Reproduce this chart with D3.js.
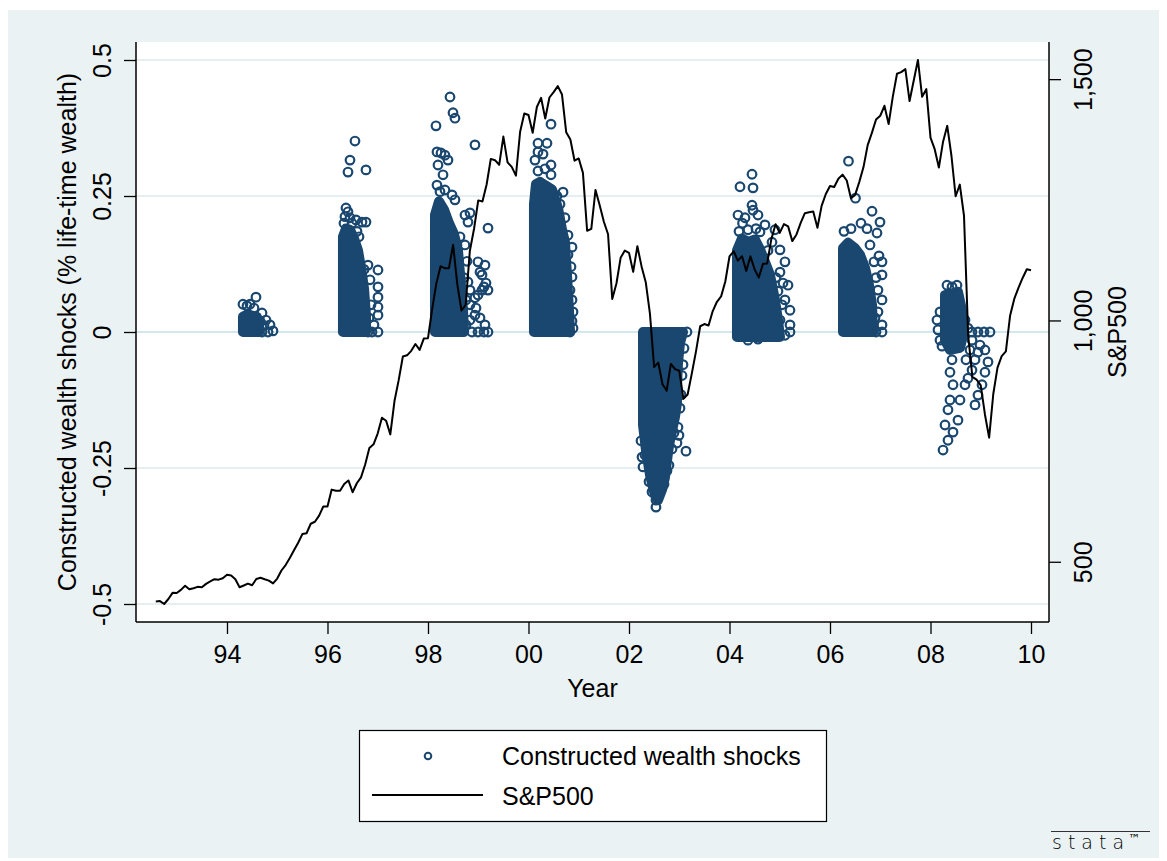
<!DOCTYPE html>
<html><head><meta charset="utf-8">
<script src="https://cdn.jsdelivr.net/npm/d3@7"></script>
<style>
body{margin:0;background:#fff}
svg text{font-family:"Liberation Sans",Arial,Helvetica,sans-serif;fill:#000}
</style>
</head><body>
<svg id="chart" width="1167" height="861"></svg>
<script>
// ---------------- DATA ----------------
// S&P500 monthly level, first month = Aug 1992
const spFirstYear = 1992, spFirstMonth = 8;
const sp500 = [
 417.93,418.48,412.50,422.84,435.64,
 435.23,441.70,450.16,443.08,445.25,448.06,447.29,454.13,459.24,463.90,462.89,465.95,
 472.99,471.58,463.81,447.23,450.90,454.83,451.40,464.24,466.96,463.81,461.01,455.19,
 465.25,481.92,493.15,507.91,523.81,539.35,557.37,559.11,578.77,582.92,595.53,614.57,
 614.42,649.54,647.07,647.17,661.23,668.50,644.07,662.68,674.88,701.46,735.67,743.25,
 766.22,798.39,792.16,763.93,833.09,876.29,925.29,927.74,937.02,951.16,938.92,962.37,
 963.36,1023.74,1076.83,1112.20,1108.42,1108.39,1156.58,1074.62,1020.64,1032.47,1144.43,1190.05,
 1248.77,1246.58,1281.66,1334.76,1332.07,1322.55,1380.99,1327.49,1318.17,1300.01,1391.00,1428.68,
 1425.59,1388.87,1442.21,1461.36,1418.48,1461.96,1473.00,1485.46,1468.05,1390.14,1375.04,1330.93,
 1335.63,1305.75,1185.85,1189.84,1270.37,1238.71,1204.45,1178.51,1044.64,1076.59,1129.68,1144.93,
 1140.21,1100.67,1153.79,1112.03,1079.27,1014.02,903.59,912.55,867.81,854.63,909.93,899.18,
 895.84,837.62,846.62,890.03,935.96,988.00,992.54,989.53,1019.44,1038.73,1049.90,1080.64,
 1132.52,1143.36,1123.98,1133.08,1102.78,1132.76,1105.85,1088.94,1117.66,1118.07,1168.94,1199.21,
 1181.41,1199.63,1194.90,1164.42,1178.28,1202.26,1222.24,1224.27,1225.91,1191.96,1237.37,1262.07,
 1278.72,1276.65,1293.74,1302.18,1290.01,1253.12,1260.24,1287.15,1317.81,1363.38,1388.63,1416.42,
 1424.16,1444.79,1406.95,1463.65,1511.14,1514.49,1520.70,1454.62,1497.12,1539.66,1463.39,1479.22,
 1378.76,1354.87,1316.94,1370.47,1403.22,1341.25,1257.33,1281.47,1216.95,968.80,883.04,877.56,
 865.58,805.23,757.13,848.15,902.41,926.12,935.82,1009.72,1044.55,1067.66,1088.07,1106.00,
 1104.00
];

// Constructed wealth shocks: dense (fully overlapping) regions, as outlines [year, shock]
const dense1994 = [[1994.318,0],[1994.318,0.028],[1994.398,0.032],[1994.498,0.030],[1994.597,0.028],[1994.637,0.012],[1994.637,0]];
const dense1996 = [[1996.308,0],[1996.308,0.175],[1996.368,0.190],[1996.448,0.188],[1996.527,0.172],[1996.607,0.150],[1996.667,0.118],[1996.727,0.080],[1996.766,0.030],[1996.766,0]];
const dense1998 = [[1998.139,0],[1998.139,0.215],[1998.219,0.240],[1998.318,0.225],[1998.418,0.200],[1998.517,0.180],[1998.597,0.150],[1998.657,0.086],[1998.697,0.040],[1998.717,0]];
const dense2000 = [[2000.109,0],[2000.109,0.235],[2000.149,0.272],[2000.229,0.276],[2000.328,0.270],[2000.468,0.262],[2000.587,0.228],[2000.667,0.188],[2000.726,0.165],[2000.766,0.105],[2000.806,0.040],[2000.826,0]];
const dense2002 = [[2002.279,0],[2003.075,0],[2003.015,-0.020],[2002.975,-0.057],[2002.955,-0.101],[2002.955,-0.131],[2002.915,-0.156],[2002.816,-0.199],[2002.776,-0.222],[2002.716,-0.267],[2002.657,-0.290],[2002.577,-0.309],[2002.517,-0.300],[2002.418,-0.263],[2002.338,-0.217],[2002.279,-0.171]];
const dense2004 = [[2004.149,-0.009],[2004.149,0.150],[2004.249,0.172],[2004.368,0.165],[2004.507,0.170],[2004.607,0.152],[2004.706,0.129],[2004.806,0.105],[2004.905,0.059],[2004.965,0.022],[2005.005,-0.009]];
const dense2006 = [[2006.259,0],[2006.259,0.154],[2006.358,0.164],[2006.498,0.154],[2006.597,0.142],[2006.697,0.118],[2006.776,0.086],[2006.836,0.050],[2006.856,0]];
const dense2008 = [[2008.289,0.068],[2008.547,0.074],[2008.627,0.040],[2008.647,-0.006],[2008.587,-0.029],[2008.388,-0.033],[2008.289,-0.015]];

// individually visible shock observations [year, shock]
const shocks1994 = [[1994.318,0.051],[1994.398,0.048],[1994.458,0.051],[1994.577,0.064],[1994.537,0.044],[1994.697,0.035],[1994.776,0.022],[1994.856,0.013],[1994.915,0.002],[1994.816,0],[1994.697,0],[1994.737,0.012],[1994.657,0.020]];
const shocks1996 = [[1996.547,0.351],[1996.448,0.316],[1996.408,0.294],[1996.766,0.298],[1996.368,0.228],[1996.408,0.221],[1996.448,0.210],[1996.567,0.206],[1996.687,0.202],[1996.766,0.202],[1996.806,0.123],[1996.846,0.096],[1997.005,0.114],[1997.005,0.083],[1997.005,0.064],[1997.005,0.046],[1997.005,0.031],[1996.925,0.013],[1996.886,0],[1997.005,0],[1996.806,0],[1996.826,0.026],[1996.866,0.050],[1996.328,0.200],[1996.348,0.212],[1996.627,0.175],[1996.727,0.115],[1996.488,0.200],[1996.587,0.185]];
const shocks1998 = [[1998.438,0.432],[1998.498,0.403],[1998.537,0.393],[1998.159,0.379],[1998.935,0.344],[1998.398,0.316],[1998.179,0.331],[1998.259,0.329],[1998.338,0.325],[1998.199,0.307],[1998.299,0.289],[1998.179,0.270],[1998.338,0.261],[1998.239,0.258],[1998.478,0.252],[1998.537,0.243],[1998.736,0.215],[1998.836,0.219],[1998.796,0.202],[1999.194,0.191],[1998.637,0.175],[1998.577,0.160],
 [1998.756,0.059],[1998.836,0.050],[1998.935,0.063],[1998.995,0.068],[1999.075,0.077],[1999.114,0.083],[1999.154,0.090],[1999.194,0.077],[1998.836,0.077],[1998.935,0.031],[1999.035,0.026],[1999.134,0.013],[1998.756,0.013],[1998.876,0],[1998.995,0],[1999.114,0],[1999.194,0],[1998.836,0.022],[1998.955,0.044],[1998.796,0.092],[1999.035,0.110],[1999.134,0.123],[1998.995,0.129],[1999.075,0.105],[1998.716,0.100],[1998.776,0.130],[1998.736,0.160]];
const shocks2000 = [[2000.448,0.382],[2000.189,0.347],[2000.368,0.347],[2000.189,0.331],[2000.289,0.327],[2000.189,0.296],[2000.448,0.307],[2000.448,0.289],[2000.687,0.257],[2000.627,0.235],[2000.786,0.178],[2000.866,0.156],[2000.866,0.101],[2000.866,0.059],[2000.886,0.037],[2000.886,0.007],[2000.826,0.077],[2000.786,0.142],[2000.726,0.210],[2000.129,0.316],[2000.328,0.300],[2000.846,0.120],[2000.866,0.020],[2000.826,0],[2000.567,0.250]];
const shocks2002 = [[2003.134,-0.219],[2002.955,-0.204],[2002.279,-0.248],[2002.318,-0.226],[2002.458,-0.294],[2002.537,-0.309],[2002.537,-0.322],[2003.154,0],[2003.095,-0.030],[2003.075,-0.060],[2003.055,-0.080],[2003.035,-0.115],[2003.015,-0.140],[2002.975,-0.175],[2002.995,-0.190],[2002.895,-0.185],[2002.856,-0.215],[2002.796,-0.245],[2002.756,-0.255],[2002.697,-0.280],[2002.478,-0.280],[2002.398,-0.275],[2002.239,-0.200],[2002.259,-0.230]];
const shocks2004 = [[2004.448,0.290],[2004.209,0.267],[2004.468,0.265],[2004.448,0.233],[2004.468,0.224],[2004.567,0.215],[2004.706,0.197],[2004.308,0.210],[2004.169,0.215],[2004.368,0.188],[2004.607,0.184],[2004.905,0.188],[2004.846,0.165],[2005.005,0.151],[2005.104,0.129],[2005.005,0.110],[2005.164,0.086],[2005.104,0.059],[2005.204,0.040],[2005.204,0.013],[2005.204,0],[2005.104,-0.006],[2005.005,0.022],[2005.045,0.050],[2004.965,0.075],[2004.925,0.100],[2005.065,0.090],[2004.189,0.185],[2004.259,0.200],[2004.527,0.190],[2004.766,0.150],[2004.368,-0.015],[2004.567,-0.013]];
const shocks2006 = [[2006.368,0.314],[2006.507,0.246],[2006.836,0.222],[2006.995,0.202],[2006.935,0.182],[2006.796,0.160],[2007.035,0.129],[2007.035,0.105],[2006.955,0.077],[2007.035,0.059],[2006.955,0.037],[2007.035,0.013],[2007.035,0],[2006.915,0],[2006.896,0.026],[2006.876,0.129],[2006.736,0.190],[2006.617,0.200],[2006.279,0.185],[2006.418,0.190],[2006.975,0.140],[2006.915,0.100]];
const shocks2008 = [[2008.328,0.086],[2008.428,0.083],[2008.527,0.086],[2008.189,0.037],[2008.129,0.022],[2008.149,0.004],[2008.189,-0.015],[2008.229,-0.026],
 [2008.428,-0.051],[2008.388,-0.074],[2008.448,-0.097],[2008.388,-0.125],[2008.348,-0.143],[2008.289,-0.171],[2008.448,-0.184],[2008.348,-0.199],[2008.249,-0.217],[2008.547,-0.162],[2008.587,-0.125],[2008.687,-0.097],[2008.746,-0.085],[2008.826,-0.070],[2008.706,-0.051],[2008.786,-0.033],[2008.886,-0.051],[2008.945,-0.037],[2008.985,-0.024],[2009.084,-0.033],[2009.144,-0.055],[2009.084,-0.074],[2009.025,-0.097],[2008.945,-0.116],[2008.886,-0.134],[2008.826,-0.015],[2008.746,0.007],[2008.687,0.022],
 [2008.826,0],[2008.945,0],[2009.065,0],[2009.184,0]];

// ticks
const xTicks = [1994,1996,1998,2000,2002,2004,2006,2008,2010];
const xTickLabels = ["94","96","98","00","02","04","06","08","10"];
const yTicks = [-0.5,-0.25,0,0.25,0.5];
const yTickLabels = ["-0.5","-0.25","0","0.25","0.5"];
const spTicks = [500,1000,1500];
const spTickLabels = ["500","1,000","1,500"];

// ---------------- DRAW ----------------
const NAVY = "#1a476f";
const W = 1167, H = 861;
const plot = {l:136, r:1049, t:42, b:622};
const svg = d3.select("#chart");

const spData = sp500.map((v,i)=>({date: spFirstYear + (spFirstMonth-1+i)/12, v}));
const xMin = Math.min(spData[0].date, xTicks[0]);
const xMax = Math.max(spData[spData.length-1].date, xTicks[xTicks.length-1]);
const x = d3.scaleLinear().domain([xMin, xMax]).range([155.8, 1031]);
const yL = d3.scaleLinear().domain([yTicks[0], yTicks[yTicks.length-1]]).range([604, 60]);
const yR = d3.scaleLinear().domain(d3.extent(sp500)).range([604, 60]);

svg.append("rect").attr("width",W).attr("height",H).attr("fill","#fff");
svg.append("rect").attr("x",8).attr("y",10).attr("width",1151).attr("height",848).attr("fill","#eaf2f3");
svg.append("rect").attr("x",plot.l).attr("y",plot.t).attr("width",plot.r-plot.l).attr("height",plot.b-plot.t).attr("fill","#fff");

// grid lines
svg.append("g").selectAll("line").data(yTicks).join("line")
  .attr("x1",plot.l).attr("x2",plot.r)
  .attr("y1",d=>yL(d)).attr("y2",d=>yL(d))
  .attr("stroke",d=>d===0?"#c4e0e9":"#dfe9ed").attr("stroke-width",1.5);

// dense shock regions
const denseAreas = [dense1994,dense1996,dense1998,dense2000,dense2002,dense2004,dense2006,dense2008];
const poly = d3.line().x(d=>x(d[0])).y(d=>yL(d[1])).curve(d3.curveLinearClosed);
svg.append("g").selectAll("path").data(denseAreas).join("path")
  .attr("d",poly).attr("fill",NAVY).attr("stroke",NAVY)
  .attr("stroke-width",10).attr("stroke-linejoin","round");

// individual shock markers
const shockPts = [].concat(shocks1994,shocks1996,shocks1998,shocks2000,shocks2002,shocks2004,shocks2006,shocks2008);
svg.append("g").selectAll("circle").data(shockPts).join("circle")
  .attr("cx",d=>x(d[0])).attr("cy",d=>yL(d[1])).attr("r",4.3)
  .attr("fill","none").attr("stroke",NAVY).attr("stroke-width",2.2);

// S&P500 line
svg.append("path").datum(spData)
  .attr("d",d3.line().x(d=>x(d.date)).y(d=>yR(d.v)))
  .attr("fill","none").attr("stroke","#000").attr("stroke-width",2).attr("stroke-linejoin","round");

// axes
function styleAxis(g){
  g.attr("font-size",null).attr("font-family",null);
  g.select(".domain").remove();
  g.selectAll(".tick line").attr("stroke","#000").attr("stroke-width",1.3);
  g.selectAll(".tick text").style("font-size","25px").attr("fill","#000");
}
const gL = svg.append("g").attr("transform",`translate(${plot.l},0)`)
  .call(d3.axisLeft(yL).tickValues(yTicks).tickFormat((d,i)=>yTickLabels[i]).tickSize(12).tickSizeOuter(0));
styleAxis(gL);
gL.selectAll(".tick text").attr("x",null).attr("dy",null)
  .attr("transform","translate(-34,0) rotate(-90)").attr("text-anchor","middle").attr("dominant-baseline","central");

const gR = svg.append("g").attr("transform",`translate(${plot.r},0)`)
  .call(d3.axisRight(yR).tickValues(spTicks).tickFormat((d,i)=>spTickLabels[i]).tickSize(12).tickSizeOuter(0));
styleAxis(gR);
gR.selectAll(".tick text").attr("x",null).attr("dy",null)
  .attr("transform","translate(34,0) rotate(-90)").attr("text-anchor","middle").attr("dominant-baseline","central");

const gB = svg.append("g").attr("transform",`translate(0,${plot.b})`)
  .call(d3.axisBottom(x).tickValues(xTicks).tickFormat((d,i)=>xTickLabels[i]).tickSize(12).tickSizeOuter(0));
styleAxis(gB);
gB.selectAll(".tick text").attr("dy",null).attr("y",41);

// axis lines
const axl = svg.append("g").attr("stroke","#000").attr("stroke-width",1.5);
axl.append("line").attr("x1",plot.l).attr("x2",plot.l).attr("y1",plot.t).attr("y2",plot.b);
axl.append("line").attr("x1",plot.r).attr("x2",plot.r).attr("y1",plot.t).attr("y2",plot.b);
axl.append("line").attr("x1",plot.l).attr("x2",plot.r).attr("y1",plot.b).attr("y2",plot.b);

// axis titles
svg.append("text").attr("transform","translate(67,332) rotate(-90)")
  .attr("text-anchor","middle").attr("dominant-baseline","central").style("font-size","25px")
  .text("Constructed wealth shocks (% life-time wealth)");
svg.append("text").attr("transform","translate(1117,332) rotate(-90)")
  .attr("text-anchor","middle").attr("dominant-baseline","central").style("font-size","25px")
  .text("S&P500");
svg.append("text").attr("x",(plot.l+plot.r)/2).attr("y",697).attr("text-anchor","middle")
  .style("font-size","25px").text("Year");

// legend
const lg = svg.append("g");
lg.append("rect").attr("x",359.5).attr("y",730.5).attr("width",467).attr("height",91)
  .attr("fill","#fff").attr("stroke","#000").attr("stroke-width",1.2);
lg.append("circle").attr("cx",428).attr("cy",756).attr("r",3.3).attr("fill","none").attr("stroke",NAVY).attr("stroke-width",2);
lg.append("line").attr("x1",372).attr("x2",483).attr("y1",795).attr("y2",795).attr("stroke","#000").attr("stroke-width",2);
lg.append("text").attr("x",502).attr("y",765).style("font-size","25px").text("Constructed wealth shocks");
lg.append("text").attr("x",502).attr("y",805).style("font-size","25px").text("S&P500");

// stata logo
svg.append("line").attr("x1",1051).attr("x2",1150).attr("y1",831.5).attr("y2",831.5).attr("stroke","#333").attr("stroke-width",1.2);
svg.append("text").attr("x",1052).attr("y",849).style("font-family","'DejaVu Sans',sans-serif")
  .style("font-size","19px").style("font-weight","300").style("letter-spacing","6px").attr("fill","#333").text("stata");
svg.append("text").attr("x",1128).attr("y",843).style("font-family","'DejaVu Sans',sans-serif")
  .style("font-size","12px").attr("fill","#333").text("™");
</script>
</body></html>
